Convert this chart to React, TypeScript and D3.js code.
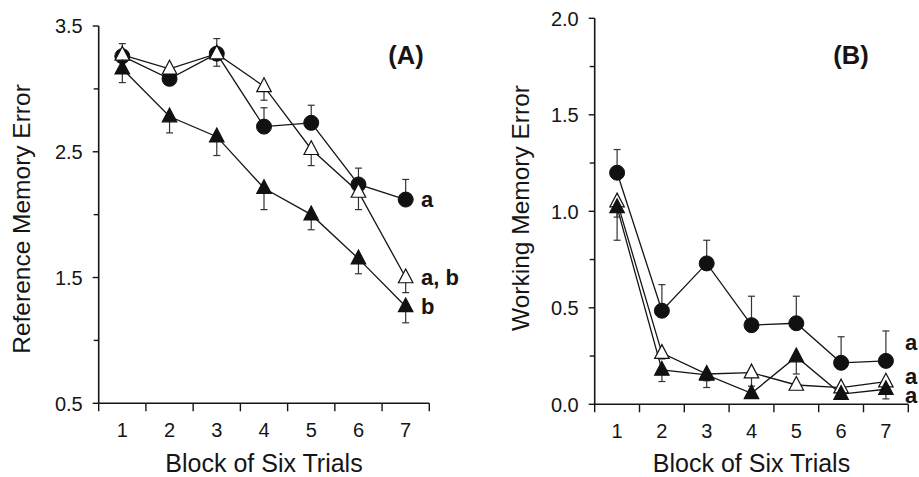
import React from 'react'
import * as d3 from 'd3'

// blocks of six trials
const blocks = [1, 2, 3, 4, 5, 6, 7]

// panel A: reference memory error
const refCircle = [3.26, 3.08, 3.28, 2.70, 2.73, 2.24, 2.12]
const refCircleErr = [0.10, 0.07, 0.12, 0.15, 0.14, 0.13, 0.16]
const refOpen = [3.27, 3.16, 3.28, 3.02, 2.52, 2.18, 1.50]
const refOpenErr = [0.05, 0.05, 0.10, 0.11, 0.13, 0.14, 0.12]
const refFilled = [3.16, 2.78, 2.62, 2.21, 2.00, 1.65, 1.27]
const refFilledErr = [0.11, 0.13, 0.15, 0.17, 0.12, 0.12, 0.13]
const refMajor = [0.5, 1.5, 2.5, 3.5]
const refMinor = [1.0, 2.0, 3.0]

// panel B: working memory error
const wmCircle = [1.20, 0.485, 0.73, 0.41, 0.42, 0.215, 0.225]
const wmCircleErr = [0.12, 0.135, 0.12, 0.15, 0.14, 0.135, 0.155]
const wmOpen = [1.05, 0.265, 0.157, 0.164, 0.10, 0.086, 0.117]
const wmOpenErr = [0.20, 0.03, 0.07, 0.07, 0.02, 0.02, 0.03]
const wmFilled = [1.02, 0.178, 0.152, 0.057, 0.247, 0.053, 0.078]
const wmFilledErr = [0.05, 0.06, 0.03, 0.02, 0.09, 0.02, 0.05]
const wmMajor = [0.0, 0.5, 1.0, 1.5, 2.0]
const wmMinor = [0.25, 0.75, 1.25, 1.75]

const FONT = '"Liberation Sans", Arial, sans-serif'
const INK = '#151515'

type Series = { kind: 'circle' | 'open' | 'filled'; vals: number[]; err: number[]; up: boolean }

function tri(cx: number, cy: number, s: number) {
  const h = s * 0.95
  return `M${cx},${cy - h * 0.62}L${cx + s / 2},${cy + h * 0.38}L${cx - s / 2},${cy + h * 0.38}Z`
}

function Panel(props: {
  x0: number; x1: number; yTop: number; yBot: number; dom: [number, number]
  major: number[]; minor: number[]; fmt: (v: number) => string
  series: Series[]; title: string; tag: string; tagX: number
  titleX: number; titleY: number
  endLabels: { text: string; v: number }[]; endX: number
}) {
  const x = d3.scaleLinear().domain([0.5, 7.5]).range([props.x0, props.x1])
  const y = d3.scaleLinear().domain(props.dom).range([props.yBot, props.yTop])
  const line = d3.line<number>().x((_, i) => x(blocks[i])).y(v => y(v))
  const xTicks = d3.range(0.5, 8, 1)
  return (
    <g>
      {/* axes */}
      <line x1={props.x0} x2={props.x0} y1={y(props.dom[1])} y2={props.yBot} stroke={INK} strokeWidth={1.6} />
      <line x1={props.x0} x2={props.x1} y1={props.yBot} y2={props.yBot} stroke={INK} strokeWidth={1.6} />
      {props.major.map(t => (
        <g key={'M' + t}>
          <line x1={props.x0 - 6} x2={props.x0} y1={y(t)} y2={y(t)} stroke={INK} strokeWidth={1.4} />
          <text x={props.x0 - 16} y={y(t)} dy="0.36em" textAnchor="end" fontSize={20} fill={INK}>{props.fmt(t)}</text>
        </g>
      ))}
      {props.minor.map(t => (
        <line key={'m' + t} x1={props.x0 - 5} x2={props.x0} y1={y(t)} y2={y(t)} stroke={INK} strokeWidth={1.4} />
      ))}
      {xTicks.map(t => (
        <line key={'x' + t} x1={x(t)} x2={x(t)} y1={props.yBot} y2={props.yBot + 8} stroke={INK} strokeWidth={1.4} />
      ))}
      {blocks.map(b => (
        <text key={'xl' + b} x={x(b)} y={props.yBot + 33.5} textAnchor="middle" fontSize={20} fill={INK}>{b}</text>
      ))}
      <text x={(props.x0 + props.x1) / 2} y={471.5} textAnchor="middle" fontSize={25} fill={INK}>Block of Six Trials</text>
      <text transform={`translate(${props.titleX},${props.titleY}) rotate(-90)`} textAnchor="middle" fontSize={24.5} fill={INK}>{props.title}</text>
      <text x={props.tagX} y={64} textAnchor="middle" fontSize={25.5} fontWeight="bold" fill={INK}>{props.tag}</text>

      {/* lines */}
      {props.series.map((s, k) => (
        <path key={'l' + k} d={line(s.vals) || ''} fill="none" stroke={INK} strokeWidth={1.3} />
      ))}
      {/* error bars */}
      {props.series.map((s, k) => s.vals.map((v, i) => {
        const e = s.up ? v + s.err[i] : v - s.err[i]
        const cx = x(blocks[i])
        return (
          <g key={'e' + k + '-' + i} stroke="#333" strokeWidth={1.2}>
            <line x1={cx} x2={cx} y1={y(v)} y2={y(e)} />
            <line x1={cx - 3.5} x2={cx + 3.5} y1={y(e)} y2={y(e)} />
          </g>
        )
      }))}
      {/* markers */}
      {props.series.map((s, k) => s.vals.map((v, i) => {
        const cx = x(blocks[i]), cy = y(v)
        if (s.kind === 'circle') return <circle key={'c' + k + i} cx={cx} cy={cy} r={7.5} fill="#111" stroke="#111" strokeWidth={1} />
        return <path key={'t' + k + i} d={tri(cx, cy, 14.5)} fill={s.kind === 'open' ? '#fff' : '#111'} stroke="#111" strokeWidth={1.2} />
      }))}
      {props.endLabels.map((l, i) => (
        <text key={'el' + i} x={props.endX} y={y(l.v)} dy="0.36em" fontSize={22} fontWeight="bold" fill={INK}>{l.text}</text>
      ))}
    </g>
  )
}

export default function App() {
  const seriesA: Series[] = [
    { kind: 'circle', vals: refCircle, err: refCircleErr, up: true },
    { kind: 'open', vals: refOpen, err: refOpenErr, up: false },
    { kind: 'filled', vals: refFilled, err: refFilledErr, up: false },
  ]
  const seriesB: Series[] = [
    { kind: 'circle', vals: wmCircle, err: wmCircleErr, up: true },
    { kind: 'open', vals: wmOpen, err: wmOpenErr, up: false },
    { kind: 'filled', vals: wmFilled, err: wmFilledErr, up: false },
  ]
  return (
    <svg width={919} height={477} style={{ position: 'absolute', left: 0, top: 0, background: '#fff' }} fontFamily={FONT}>
      <rect width={919} height={477} fill="#fff" />
      <Panel x0={98.7} x1={429.3} yTop={26} yBot={403.3} dom={[0.5, 3.5]}
        major={refMajor} minor={refMinor} fmt={d3.format('.1f')}
        series={seriesA} title="Reference Memory Error" tag="(A)" tagX={406}
        titleX={30} titleY={219}
        endLabels={[{ text: 'a', v: 2.12 }, { text: 'a, b', v: 1.50 }, { text: 'b', v: 1.27 }]} endX={421} />
      <Panel x0={594.7} x1={908.3} yTop={18.3} yBot={404.3} dom={[0, 2]}
        major={wmMajor} minor={wmMinor} fmt={d3.format('.1f')}
        series={seriesB} title="Working Memory Error" tag="(B)" tagX={851}
        titleX={528.5} titleY={208}
        endLabels={[{ text: 'a', v: 0.32 }, { text: 'a', v: 0.145 }, { text: 'a', v: 0.05 }]} endX={905} />
    </svg>
  )
}
